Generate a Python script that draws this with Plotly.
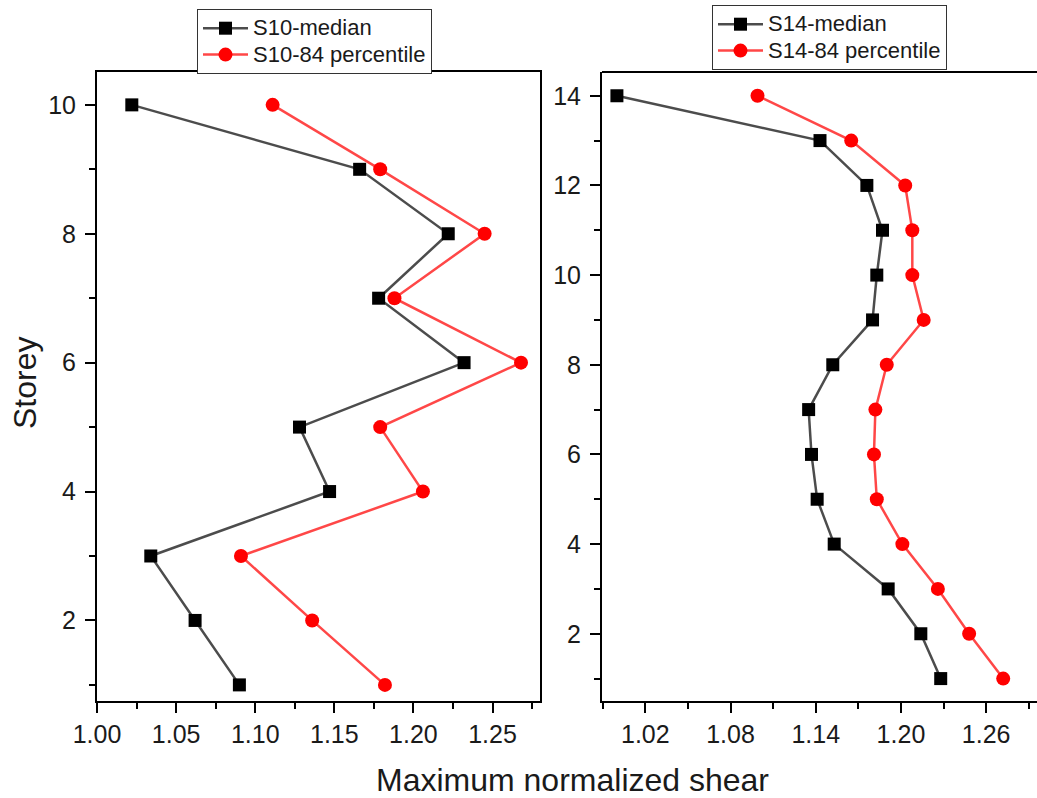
import plotly.graph_objects as go

# Storey levels for the two buildings
storeys_s10 = [10, 9, 8, 7, 6, 5, 4, 3, 2, 1]
storeys_s14 = [14, 13, 12, 11, 10, 9, 8, 7, 6, 5, 4, 3, 2, 1]

# Maximum normalized storey shear, S10 building
s10_median = [1.022, 1.166, 1.222, 1.178, 1.232, 1.128, 1.147, 1.034, 1.062, 1.090]
s10_p84 = [1.111, 1.179, 1.245, 1.188, 1.268, 1.179, 1.206, 1.091, 1.136, 1.182]

# Maximum normalized storey shear, S14 building
s14_median = [1.000, 1.143, 1.176, 1.187, 1.183, 1.180, 1.152, 1.135, 1.137, 1.141,
              1.153, 1.191, 1.214, 1.228]
s14_p84 = [1.099, 1.165, 1.203, 1.208, 1.208, 1.216, 1.190, 1.182, 1.181, 1.183,
           1.201, 1.226, 1.248, 1.272]

series_names = ["S10-median", "S10-84 percentile", "S14-median", "S14-84 percentile"]
x_title = "Maximum normalized shear"
y_title = "Storey"

W, H = 1037, 798
FONT = "Liberation Sans, Arial, sans-serif"
TXT = "#1a1a1a"

GRAY_LINE = "rgba(0,0,0,0.70)"
RED_LINE = "rgba(255,0,0,0.72)"


def px_x(p):
    return p / W


def px_y(p):
    return 1 - p / H


def legend_label(name):
    # larger glyphs than the legend's base font keep the rows tightly packed
    return f'<span style="font-size:22px">{name}</span>'


fig = go.Figure()

fig.add_trace(go.Scatter(
    x=s10_median, y=storeys_s10, name=legend_label(series_names[0]), mode="lines+markers",
    line=dict(color=GRAY_LINE, width=2.5),
    marker=dict(symbol="square", size=13, color="#000000"),
    xaxis="x", yaxis="y", legend="legend"))
fig.add_trace(go.Scatter(
    x=s10_p84, y=storeys_s10, name=legend_label(series_names[1]), mode="lines+markers",
    line=dict(color=RED_LINE, width=2.5),
    marker=dict(symbol="circle", size=14, color="#ff0000"),
    xaxis="x", yaxis="y", legend="legend"))
fig.add_trace(go.Scatter(
    x=s14_median, y=storeys_s14, name=legend_label(series_names[2]), mode="lines+markers",
    line=dict(color=GRAY_LINE, width=2.5),
    marker=dict(symbol="square", size=13, color="#000000"),
    xaxis="x2", yaxis="y2", legend="legend2"))
fig.add_trace(go.Scatter(
    x=s14_p84, y=storeys_s14, name=legend_label(series_names[3]), mode="lines+markers",
    line=dict(color=RED_LINE, width=2.5),
    marker=dict(symbol="circle", size=14, color="#ff0000"),
    xaxis="x2", yaxis="y2", legend="legend2"))

ydom = [px_y(701), px_y(72)]

common = dict(
    showgrid=False, zeroline=False, showline=True, linecolor="#000000", linewidth=2,
    ticks="outside", ticklen=10, tickwidth=1.5, tickcolor="#000000",
    tickfont=dict(family=FONT, size=25, color=TXT), automargin=False,
)

legend_style = dict(
    xanchor="left", yanchor="top",
    bgcolor="white", bordercolor="#333333", borderwidth=1,
    font=dict(family=FONT, size=18, color=TXT), itemwidth=45, tracegroupgap=0,
)

fig.update_layout(
    width=W, height=H,
    margin=dict(l=0, r=0, t=0, b=0, autoexpand=False),
    paper_bgcolor="white", plot_bgcolor="white",
    font=dict(family=FONT, color=TXT),
    xaxis=dict(domain=[px_x(97), px_x(540)], range=[1.00, 1.28],
               tick0=1.0, dtick=0.05, tickformat=".2f", mirror=True,
               minor=dict(ticks="outside", ticklen=6, dtick=0.025, tick0=1.0,
                          tickcolor="#000000", tickwidth=1.5),
               anchor="y", **common),
    yaxis=dict(domain=ydom, range=[0.75, 10.51], tick0=0, dtick=2, mirror=True,
               minor=dict(ticks="outside", ticklen=6, dtick=1, tick0=1,
                          tickcolor="#000000", tickwidth=1.5),
               anchor="x", ticklabelstandoff=4, **common),
    xaxis2=dict(domain=[px_x(602), 1.0], range=[0.9895, 1.2958],
                tick0=1.02, dtick=0.06, tickformat=".2f", mirror=False,
                minor=dict(ticks="outside", ticklen=6, dtick=0.03, tick0=1.02,
                           tickcolor="#000000", tickwidth=1.5),
                anchor="y2", **common),
    yaxis2=dict(domain=ydom, range=[0.5, 14.53], tick0=0, dtick=2, mirror=False,
                minor=dict(ticks="outside", ticklen=6, dtick=1, tick0=1,
                           tickcolor="#000000", tickwidth=1.5),
                anchor="x2", ticklabelstandoff=4, **common),
    legend=dict(x=px_x(197), y=px_y(9), **legend_style),
    legend2=dict(x=px_x(712), y=px_y(5), **legend_style),
    showlegend=True,
)

# top frame of the right panel (its right edge runs past the figure)
fig.add_shape(type="line", xref="paper", yref="paper",
              x0=px_x(602), x1=1.0, y0=px_y(72), y1=px_y(72),
              line=dict(color="#000000", width=2))

fig.add_annotation(text=x_title, xref="paper", yref="paper",
                   x=px_x(572), y=px_y(780), xanchor="center", yanchor="middle",
                   showarrow=False, font=dict(family=FONT, size=32, color=TXT))
fig.add_annotation(text=y_title, xref="paper", yref="paper",
                   x=px_x(25), y=px_y(383), xanchor="center", yanchor="middle",
                   textangle=-90, showarrow=False,
                   font=dict(family=FONT, size=32, color=TXT))

fig.write_html("out.html")
